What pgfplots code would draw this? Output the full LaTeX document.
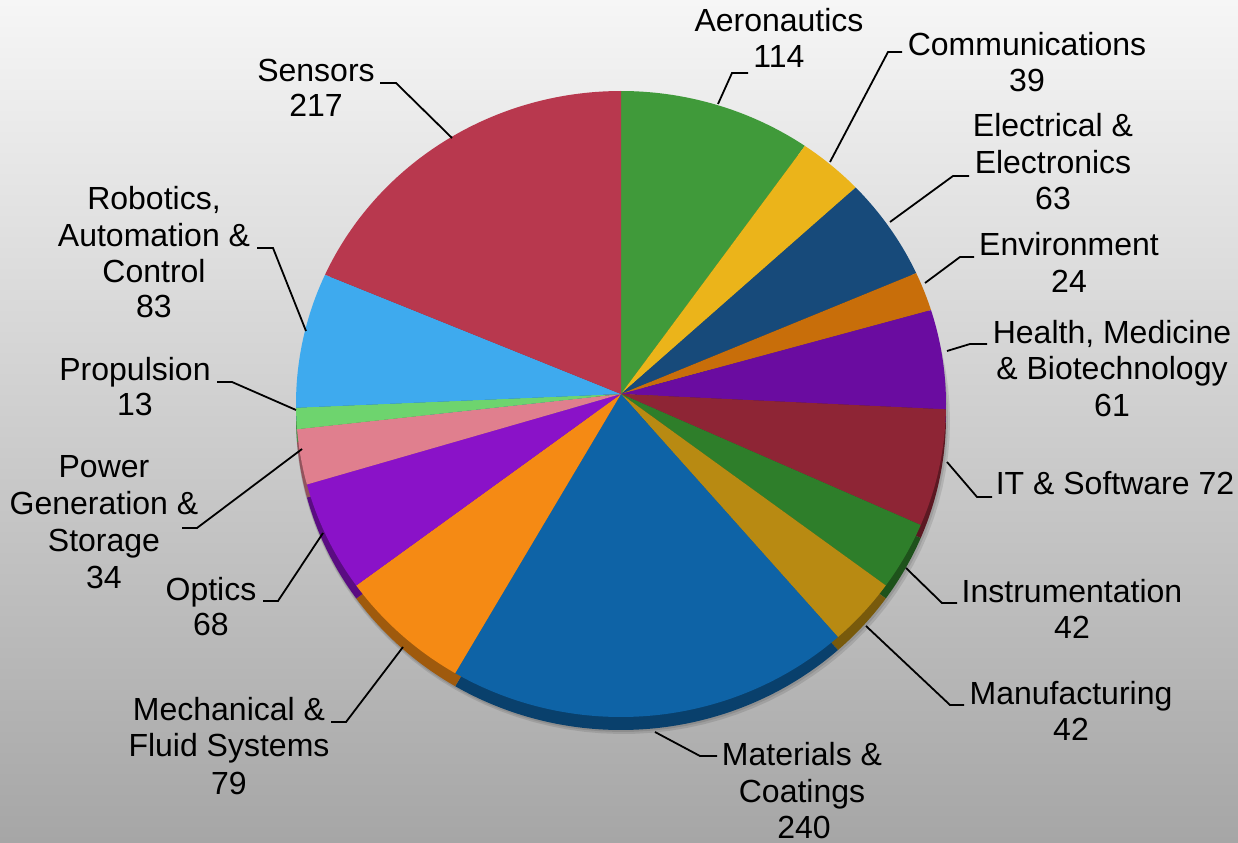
\documentclass[border=0pt]{standalone}
\usepackage{pgfplots}
\pgfplotsset{compat=1.18}
\usepackage{fontspec}
\setmainfont{Liberation Sans}
\definecolor{cAer}{HTML}{409A3A}
\definecolor{cCom}{HTML}{EBB41A}
\definecolor{cEle}{HTML}{174A7A}
\definecolor{cEnv}{HTML}{C86E0A}
\definecolor{cHea}{HTML}{6A0CA0}
\definecolor{cIT}{HTML}{8E2535}
\definecolor{cIns}{HTML}{2E7E2A}
\definecolor{cMan}{HTML}{B88A12}
\definecolor{cMat}{HTML}{0E63A6}
\definecolor{cMec}{HTML}{F58A14}
\definecolor{cOpt}{HTML}{8A12C8}
\definecolor{cPow}{HTML}{E07F8E}
\definecolor{cPro}{HTML}{6ED46E}
\definecolor{cRob}{HTML}{3EAAEE}
\definecolor{cSen}{HTML}{B8384E}
\definecolor{bgTop}{RGB}{246,246,246}
\definecolor{bgMid}{RGB}{214,214,214}
\definecolor{bgBot}{RGB}{166,166,166}
\begin{document}
\begin{tikzpicture}
\begin{axis}[hide axis, scale only axis, width=619pt, height=421pt,
  xmin=0, xmax=1238, ymin=0, ymax=842, clip=false]
\fill[top color=bgTop, middle color=bgMid, bottom color=bgBot] (axis cs:0,0) rectangle (axis cs:1238,842);
% soft shadow
\addplot[fill=black, fill opacity=0.10, draw=none, domain=0:360, samples=120] ({623+327*cos(x)},{421+313*sin(x)}) -- cycle;
\addplot[fill=black, fill opacity=0.10, draw=none, domain=0:360, samples=120] ({622+326*cos(x)},{423+313*sin(x)}) -- cycle;
% rim (3D edge)
\gdef\cum{0}
\foreach \v/\c in {114/cAer,39/cCom,63/cEle,24/cEnv,61/cHea,72/cIT,42/cIns,42/cMan,240/cMat,79/cMec,68/cOpt,34/cPow,13/cPro,83/cRob,217/cSen} {
  \pgfmathsetmacro\a{90-(\cum/1191)*360}
  \pgfmathsetmacro\b{90-((\cum+\v)/1191)*360}
  \edef\tmp{\noexpand\addplot[fill=\c!65!black, draw=none, domain=\b:\a, samples=80, variable=\noexpand\t] ({621+325*cos(\noexpand\t)},{425+313*sin(\noexpand\t)}) -- (axis cs:621,435) -- cycle;}
  \tmp
  \pgfmathsetmacro\newcum{\cum+\v}\xdef\cum{\newcum}
}
% top face
\gdef\cum{0}
\foreach \v/\c in {114/cAer,39/cCom,63/cEle,24/cEnv,61/cHea,72/cIT,42/cIns,42/cMan,240/cMat,79/cMec,68/cOpt,34/cPow,13/cPro,83/cRob,217/cSen} {
  \pgfmathsetmacro\a{90-(\cum/1191)*360}
  \pgfmathsetmacro\b{90-((\cum+\v)/1191)*360}
  \edef\tmp{\noexpand\addplot[fill=\c, draw=none, domain=\b:\a, samples=80, variable=\noexpand\t] ({621+325*cos(\noexpand\t)},{438+313*sin(\noexpand\t)}) -- (axis cs:621,448) -- cycle;}
  \tmp
  \pgfmathsetmacro\newcum{\cum+\v}\xdef\cum{\newcum}
}
% leader lines
\begin{scope}[black, line width=0.9pt]
\draw (axis cs:718,738) -- (axis cs:732,769) -- (axis cs:748,769);
\draw (axis cs:830,680) -- (axis cs:888,790) -- (axis cs:902,790);
\draw (axis cs:890,620) -- (axis cs:953,666) -- (axis cs:969,666);
\draw (axis cs:925,559) -- (axis cs:960,585) -- (axis cs:974,585);
\draw (axis cs:947,491) -- (axis cs:970,498) -- (axis cs:987,498);
\draw (axis cs:947,380) -- (axis cs:977,345) -- (axis cs:992,345);
\draw (axis cs:906,274) -- (axis cs:942,239) -- (axis cs:957,239);
\draw (axis cs:866,216) -- (axis cs:950,137) -- (axis cs:964,137);
\draw (axis cs:655,110) -- (axis cs:700,86) -- (axis cs:717,86);
\draw (axis cs:403,195) -- (axis cs:346,120) -- (axis cs:331,120);
\draw (axis cs:323,309) -- (axis cs:278,241) -- (axis cs:263,241);
\draw (axis cs:302,393) -- (axis cs:197,314) -- (axis cs:182,314);
\draw (axis cs:296,432) -- (axis cs:232,460) -- (axis cs:217,460);
\draw (axis cs:452,704) -- (axis cs:396,759) -- (axis cs:380,759);
\draw (axis cs:306,511) -- (axis cs:273,594) -- (axis cs:257,594);
\end{scope}
% labels
\begin{scope}[every node/.style={anchor=base, inner sep=0pt, font=\fontsize{16}{19}\selectfont, text=black}]
\node at (axis cs:779,810) {Aeronautics};
\node at (axis cs:779,774) {114};
\node at (axis cs:1027,786) {Communications};
\node at (axis cs:1027,750) {39};
\node at (axis cs:1053,705) {Electrical \&};
\node at (axis cs:1053,668) {Electronics};
\node at (axis cs:1053,632) {63};
\node at (axis cs:1069,586) {Environment};
\node at (axis cs:1069,549) {24};
\node at (axis cs:1112,498) {Health, Medicine};
\node at (axis cs:1112,462) {\& Biotechnology};
\node at (axis cs:1112,425) {61};
\node at (axis cs:1115,347) {IT \& Software 72};
\node at (axis cs:1072,240) {Instrumentation};
\node at (axis cs:1072,204) {42};
\node at (axis cs:1071,138) {Manufacturing};
\node at (axis cs:1071,102) {42};
\node at (axis cs:802,77) {Materials \&};
\node at (axis cs:802,40) {Coatings};
\node at (axis cs:804,4) {240};
\node at (axis cs:229,122) {Mechanical \&};
\node at (axis cs:229,86) {Fluid Systems};
\node at (axis cs:229,48) {79};
\node at (axis cs:211,242) {Optics};
\node at (axis cs:211,206) {68};
\node at (axis cs:104,364) {Power};
\node at (axis cs:104,327) {Generation \&};
\node at (axis cs:104,290) {Storage};
\node at (axis cs:104,254) {34};
\node at (axis cs:135,461) {Propulsion};
\node at (axis cs:135,426) {13};
\node at (axis cs:154,632) {Robotics,};
\node at (axis cs:154,595) {Automation \&};
\node at (axis cs:154,559) {Control};
\node at (axis cs:154,524) {83};
\node at (axis cs:316,760) {Sensors};
\node at (axis cs:316,725) {217};
\end{scope}
\end{axis}
\pgfresetboundingbox
\path[use as bounding box] (current axis.south west) rectangle (current axis.north east);
\end{tikzpicture}
\end{document}
